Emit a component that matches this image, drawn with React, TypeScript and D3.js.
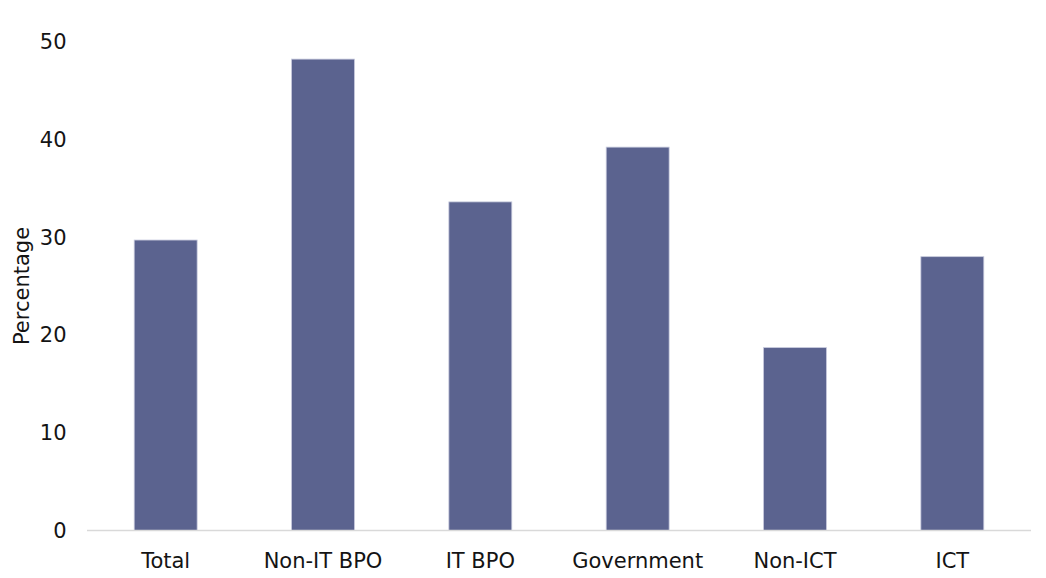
import React from "react";
import * as d3 from "d3";

const categories: string[] = ["Total", "Non-IT BPO", "IT BPO", "Government", "Non-ICT", "ICT"];
const percentages: number[] = [29.7, 48.2, 33.6, 39.2, 18.7, 28.0];
const yTicks: number[] = [0, 10, 20, 30, 40, 50];
const yTitle = "Percentage";

const W = 1046;
const H = 578;
const FONT = "'DejaVu Sans', Verdana, sans-serif";
const FS = 21;

export default function App() {
  const x = d3
    .scaleBand<string>()
    .domain(categories)
    .range([87, 1031])
    .paddingInner(0.6)
    .paddingOuter(0.3);
  const y = d3.scaleLinear().domain([0, 50]).range([530.5, 41.5]);

  return (
    <svg
      width={W}
      height={H}
      style={{ position: "absolute", left: 0, top: 0, display: "block", background: "#fff" }}
      fontFamily={FONT}
    >
      {/* y tick labels */}
      {yTicks.map((t) => (
        <text
          key={t}
          x={66.5}
          y={y(t)}
          dy="0.36em"
          textAnchor="end"
          fontSize={FS}
          fill="#141414"
        >
          {t}
        </text>
      ))}

      {/* y axis title */}
      <text
        transform={`translate(29, ${(y(0) + y(50)) / 2}) rotate(-90)`}
        textAnchor="middle"
        fontSize={FS}
        fill="#141414"
      >
        {yTitle}
      </text>

      {/* bars */}
      {categories.map((c, i) => (
        <rect
          key={c}
          x={x(c)}
          y={y(percentages[i])}
          width={x.bandwidth()}
          height={y(0) - y(percentages[i])}
          fill="#5b638f"
          stroke="#c7cadd"
          strokeWidth={0.8}
        />
      ))}

      {/* baseline */}
      <line x1={87} x2={1031} y1={y(0)} y2={y(0)} stroke="#d9d9d9" strokeWidth={1.5} />

      {/* category labels */}
      {categories.map((c) => (
        <text
          key={c}
          x={(x(c) ?? 0) + x.bandwidth() / 2}
          y={568}
          textAnchor="middle"
          fontSize={FS}
          fill="#141414"
        >
          {c}
        </text>
      ))}
    </svg>
  );
}
